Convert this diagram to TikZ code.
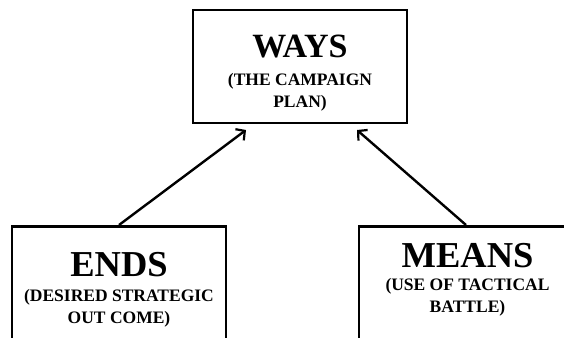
\documentclass[tikz,border=0pt]{standalone}
\usepackage{fontspec}
\setmainfont{Liberation Serif}
\usetikzlibrary{arrows.meta,positioning}
\tikzset{
	cbox/.style={draw,line width=2.8pt,minimum width=214pt,inner sep=0pt},
	bigword/.style={font=\bfseries\fontsize{36.5}{36.5}\selectfont,inner sep=0pt,anchor=base},
	smallword/.style={font=\bfseries\fontsize{17.5}{21.5}\selectfont,inner sep=0pt,align=center,anchor=base},
	linkarrow/.style={line width=2.4pt,-{Straight Barb[length=6.5pt,width=14pt,line width=2.2pt]}}
}

\begin{document}
\begin{tikzpicture}[x=1pt,y=-1pt]
				%%%%% FRAME %%%%%
				\useasboundingbox (0,0) rectangle (564,337);
				\clip (0,0) rectangle (564,337);
				\def\wx{300}
				\def\ex{119}
				\def\mx{466}
				\def\ytop{225}

				%%%%% BOXES %%%%%
				\node[cbox,minimum height=113pt] (ways) at (\wx,66.5) {};
				\node[cbox,minimum height=160pt,anchor=north] (ends) at (\ex,\ytop) {};
				\node[cbox,minimum height=160pt,anchor=north] (means) at (\mx,\ytop) {};

				%%%%% TEXT %%%%%
				% base of a two line note = its last line
				\node[bigword,font=\bfseries\fontsize{34}{34}\selectfont] (waystitle) at (\wx,57) {WAYS};
				\node[smallword] (waysnote) at (\wx,107) {(THE CAMPAIGN\\PLAN)};
				\node[bigword] (endstitle) at (\ex,276) {ENDS};
				\node[smallword] (endsnote) at (\ex,323) {(DESIRED STRATEGIC\\OUT COME)};
				\node[bigword] (meanstitle) at (467.5,267) {MEANS};
				\node[smallword] (meansnote) at (467.5,312) {(USE OF TACTICAL\\BATTLE)};

				%%%%% ARROWS %%%%%
				\coordinate (waysleft) at (246,130);
				\coordinate (waysright) at (357,130);
				\draw[linkarrow] (ends.north) -- (waysleft);
				\draw[linkarrow] (means.north) -- (waysright);
\end{tikzpicture}
\end{document}
